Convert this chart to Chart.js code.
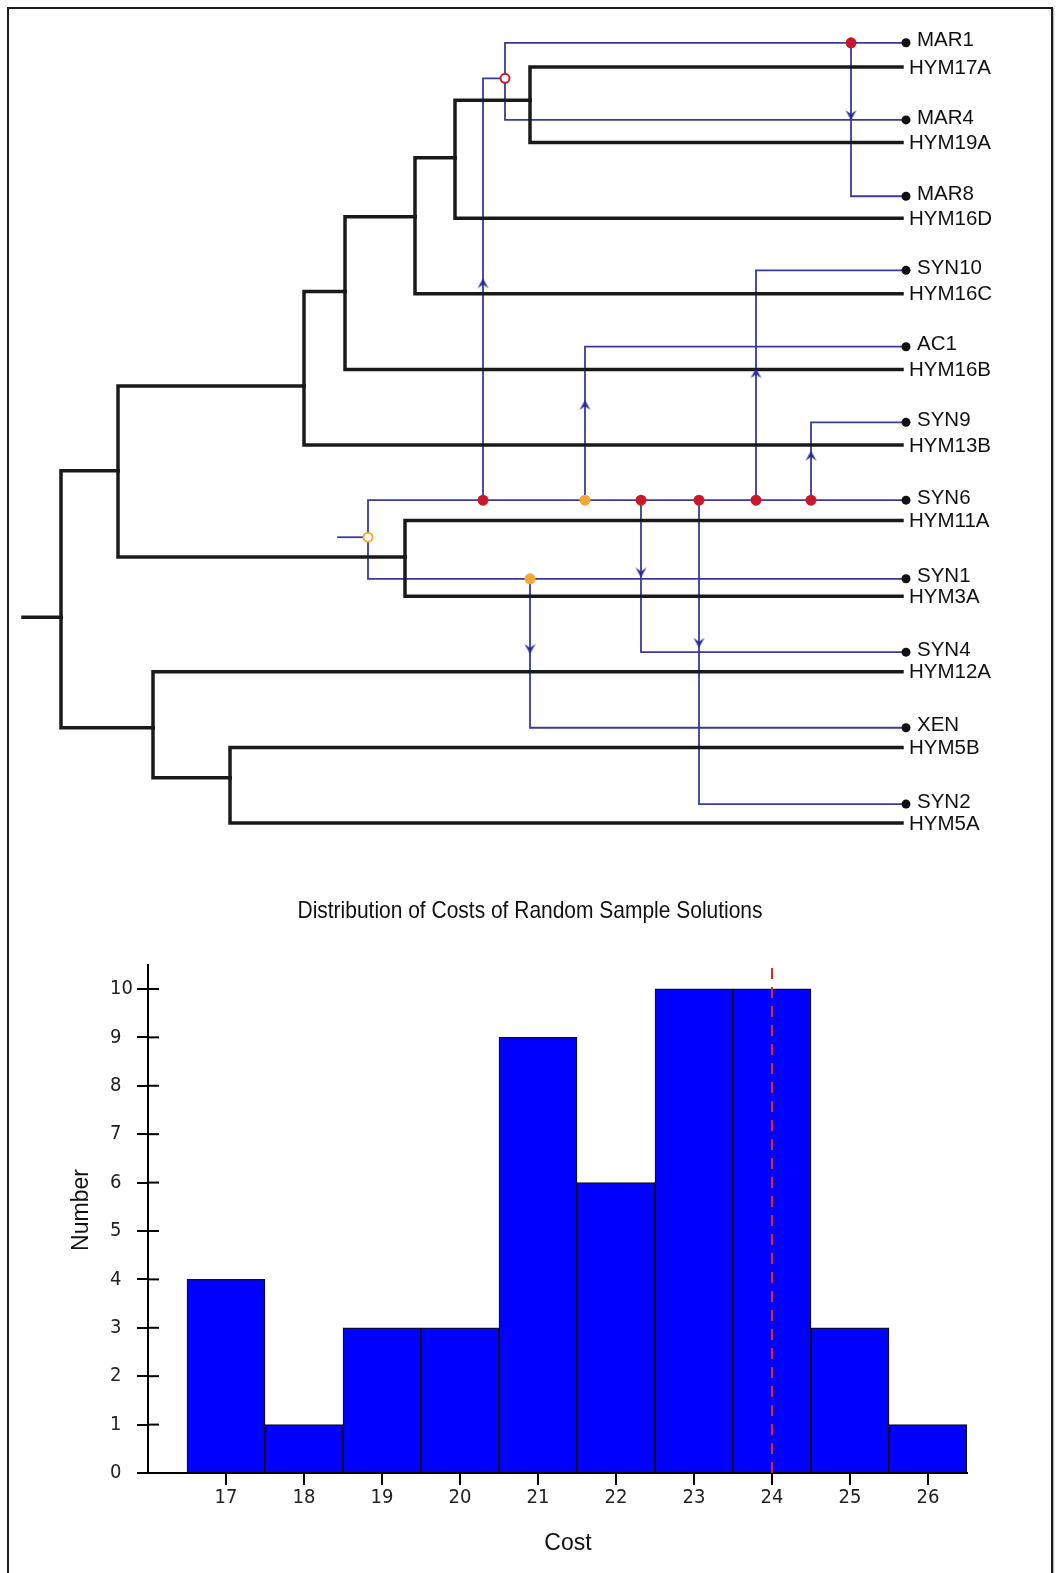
<!DOCTYPE html>
<html>
<head>
<meta charset="utf-8">
<script src="https://cdn.jsdelivr.net/npm/chart.js@4.4.1/dist/chart.umd.min.js"></script>
<style>
body{margin:0;background:#fff;}
#wrap{position:relative;width:1060px;height:1573px;overflow:hidden;}
#treeChart{position:absolute;left:0;top:0;}
#histChart{position:absolute;left:0;top:880px;}
#frame{position:absolute;left:7px;top:7px;width:1042px;height:1620px;border:2px solid #1c1c1c;box-shadow:1px 1px 1px #bbb;pointer-events:none;}
</style>
</head>
<body>
<div id="wrap">
<canvas id="treeChart" width="1060" height="880"></canvas>
<canvas id="histChart" width="1060" height="693"></canvas>
<div id="frame"></div>
</div>
<script>
// ---- host tree (black) ----
const hostLeaves = ['HYM17A','HYM19A','HYM16D','HYM16C','HYM16B','HYM13B','HYM11A','HYM3A','HYM12A','HYM5B','HYM5A'];
const hostLeafRows = [0,1,2,3,4,5,6,7,8,9,10];
const hostTip = 902;
const hostRootStart = 23;
const hostNodes = ['root','A','B','C','D','E','F','G','H','I'];
const hostNodeX = [61,118,304,345,415,455,530,405,153,230];
const hostNodeRow = [7.28,5.34,4.22,2.97,1.98,1.20,0.44,6.48,8.74,9.40];
const hostKids = [['A','H'],['B','G'],['C','HYM13B'],['D','HYM16B'],['E','HYM16C'],['F','HYM16D'],['HYM17A','HYM19A'],['HYM11A','HYM3A'],['HYM12A','I'],['HYM5B','HYM5A']];

// ---- parasite tree (blue) ----
const paraLeaves = ['MAR1','MAR4','MAR8','SYN10','AC1','SYN9','SYN6','SYN1','SYN4','XEN','SYN2'];
const paraLeafRows = [-0.32,0.70,1.71,2.69,3.70,4.70,5.73,6.77,7.74,8.74,9.75];
const paraTip = 906;
const paraRootStart = 338;
const paraNodes = ['p0','e1','q','m1','e2','e3','e4','e5','e6','s1'];
const paraNodeX = [368,483,505,851,585,641,699,756,811,530];
const paraNodeRow = [6.22,5.73,0.15,-0.32,5.73,5.73,5.73,5.73,5.73,6.77];
const paraNodeType = ['openOrange','red','openRed','red','orange','red','red','red','red','orange'];
const paraKids = [['e1','s1'],['e2','q'],['m1','MAR4'],['MAR1','MAR8'],['e3','AC1'],['e4','SYN4'],['e5','SYN2'],['e6','SYN10'],['SYN6','SYN9'],['SYN1','XEN']];
// arrows on the switch branches
const arrowTargets = ['q','AC1','SYN4','SYN2','SYN10','SYN9','MAR8','XEN'];
const arrowRows = [2.87,4.48,6.68,7.61,4.06,5.15,0.63,7.69];

// ---- histogram ----
const costs = [17,18,19,20,21,22,23,24,25,26];
const counts = [4,1,3,3,9,6,10,10,3,1];
const xTicks = [17,18,19,20,21,22,23,24,25,26];
const yTicks = [0,1,2,3,4,5,6,7,8,9,10];
const observedCost = 24;

const BLACK = '#1a1a1a';
const BLUE = '#3a3a9c';
const RED = '#c9182b';
const ORANGE = '#f5a833';

function hostPos(id){
    let i = hostLeaves.indexOf(id);
    if(i >= 0) return {x:hostTip, y:hostLeafRows[i]};
    i = hostNodes.indexOf(id);
    return {x:hostNodeX[i], y:hostNodeRow[i]};
}
function paraPos(id){
    let i = paraLeaves.indexOf(id);
    if(i >= 0) return {x:paraTip, y:paraLeafRows[i]};
    i = paraNodes.indexOf(id);
    return {x:paraNodeX[i], y:paraNodeRow[i]};
}

function edgeSet(pts, color, width){
    return {data:pts, showLine:true, borderColor:color, borderWidth:width, pointRadius:0,
            borderCapStyle:'square', borderJoinStyle:'miter', fill:false};
}

let hostEdges = [];
hostNodes.forEach((n,i)=>{
    hostKids[i].forEach(k=>{
        let c = hostPos(k);
        hostEdges.push(edgeSet([{x:hostNodeX[i],y:hostNodeRow[i]},{x:hostNodeX[i],y:c.y},{x:c.x,y:c.y}], BLACK, 3.5));
    });
});
hostEdges.push(edgeSet([{x:hostRootStart,y:hostNodeRow[0]},{x:hostNodeX[0],y:hostNodeRow[0]}], BLACK, 3.5));

let paraEdges = [];
let parentOf = {};
paraNodes.forEach((n,i)=>{
    paraKids[i].forEach(k=>{
        parentOf[k] = n;
        let c = paraPos(k);
        paraEdges.push(edgeSet([{x:paraNodeX[i],y:paraNodeRow[i]},{x:paraNodeX[i],y:c.y},{x:c.x,y:c.y}], BLUE, 1.8));
    });
});
paraEdges.push(edgeSet([{x:paraRootStart,y:paraNodeRow[0]},{x:paraNodeX[0],y:paraNodeRow[0]}], BLUE, 1.8));

// arrow head image, pointing down
let arrowImg = document.createElement('canvas');
arrowImg.width = 13; arrowImg.height = 13;
let actx = arrowImg.getContext('2d');
actx.fillStyle = '#2b2b95';
actx.beginPath();
actx.moveTo(6.5,12); actx.lineTo(1,2); actx.lineTo(6.5,6); actx.lineTo(12,2); actx.closePath();
actx.fill();

let arrowPts = [], arrowRot = [];
arrowTargets.forEach((t,i)=>{
    let p = paraPos(parentOf[t]);
    let c = paraPos(t);
    arrowPts.push({x:p.x, y:arrowRows[i]});
    arrowRot.push(c.y < p.y ? 180 : 0);
});

function dotsOf(type){
    let out = [];
    paraNodes.forEach((n,i)=>{ if(paraNodeType[i]===type) out.push({x:paraNodeX[i], y:paraNodeRow[i]}); });
    return out;
}

let dotSets = [
    {data:paraLeaves.map((n,i)=>({x:paraTip,y:paraLeafRows[i]})), pointRadius:4.5, pointBackgroundColor:'#111', pointBorderWidth:0},
    {data:dotsOf('red'), pointRadius:5.5, pointBackgroundColor:RED, pointBorderWidth:0},
    {data:dotsOf('orange'), pointRadius:5.5, pointBackgroundColor:ORANGE, pointBorderWidth:0},
    {data:dotsOf('openRed'), pointRadius:4.5, pointBackgroundColor:'#fff', pointBorderColor:RED, pointBorderWidth:2},
    {data:dotsOf('openOrange'), pointRadius:4.5, pointBackgroundColor:'#fff', pointBorderColor:ORANGE, pointBorderWidth:2},
    {data:arrowPts, pointRadius:5, pointStyle:arrowImg, pointRotation:arrowRot}
];

const leafLabels = {
    id:'leafLabels',
    afterDatasetsDraw(chart){
        const ctx = chart.ctx, x = chart.scales.x, y = chart.scales.y;
        ctx.save();
        ctx.font = '20.5px "Liberation Sans", Arial, sans-serif';
        ctx.fillStyle = '#111';
        ctx.textBaseline = 'middle';
        hostLeaves.forEach((n,i)=>{
            ctx.fillText(n, x.getPixelForValue(hostTip)+7, y.getPixelForValue(hostLeafRows[i])+1);
        });
        paraLeaves.forEach((n,i)=>{
            ctx.fillText(n, x.getPixelForValue(paraTip)+11, y.getPixelForValue(paraLeafRows[i])-2);
        });
        ctx.restore();
    }
};

new Chart(document.getElementById('treeChart'), {
    type:'scatter',
    data:{datasets:[...dotSets, ...hostEdges, ...paraEdges]},
    options:{
        responsive:false, animation:false, events:[],
        layout:{padding:0, autoPadding:false},
        plugins:{legend:{display:false}, tooltip:{enabled:false}},
        scales:{
            x:{type:'linear', display:false, min:0, max:1060},
            y:{type:'linear', display:false, min:-0.886, max:10.754, reverse:true}
        }
    },
    plugins:[leafLabels]
});

// ---- histogram chart ----
const tickFont = {family:'"DejaVu Sans Condensed", "DejaVu Sans", sans-serif', size:20};

const histExtras = {
    id:'histExtras',
    afterDraw(chart){
        const ctx = chart.ctx, ys = chart.scales.y, area = chart.chartArea;
        ctx.save();
        // inner half of the y ticks
        ctx.strokeStyle = '#000';
        ctx.lineWidth = 2;
        yTicks.forEach(v=>{
            let py = ys.getPixelForValue(v);
            ctx.beginPath(); ctx.moveTo(area.left, py); ctx.lineTo(area.left+11, py); ctx.stroke();
        });
        ctx.fillStyle = '#111';
        ctx.textAlign = 'center';
        ctx.textBaseline = 'middle';
        // narrow title
        const title = 'Distribution of Costs of Random Sample Solutions';
        ctx.font = '24px "Liberation Sans", Arial, sans-serif';
        let w = ctx.measureText(title).width;
        ctx.save();
        ctx.translate(530, 31);
        ctx.scale(465 / w, 1);
        ctx.fillText(title, 0, 0);
        ctx.restore();
        ctx.font = '23px "Liberation Sans", Arial, sans-serif';
        ctx.fillText('Cost', 568, 664);
        ctx.translate(82, 330);
        ctx.rotate(-Math.PI/2);
        ctx.fillText('Number', 0, 0);
        ctx.restore();
    }
};

new Chart(document.getElementById('histChart'), {
    type:'bar',
    data:{datasets:[
        {type:'line', data:[{x:observedCost,y:0},{x:observedCost,y:10.5}], borderColor:'#e3242b', borderWidth:2,
         borderDash:[11,8], pointRadius:0, order:0},
        {type:'bar', data:costs.map((c,i)=>({x:c,y:counts[i]})), backgroundColor:'#0000ff', borderColor:'#111',
         borderWidth:1.3, barPercentage:1, categoryPercentage:1, order:1}
    ]},
    options:{
        responsive:false, animation:false, events:[],
        layout:{padding:{left:110, right:93, top:84.75, bottom:0}, autoPadding:false},
        plugins:{legend:{display:false}, tooltip:{enabled:false}},
        scales:{
            x:{type:'linear', min:16, max:26.5, offset:false,
               grid:{drawOnChartArea:false, offset:false, tickLength:12, color:'#000', lineWidth:2},
               border:{color:'#000', width:2},
               ticks:{color:'#222', font:tickFont, padding:1, autoSkip:false, maxRotation:0},
               afterBuildTicks:s=>{ s.ticks = xTicks.map(v=>({value:v})); },
               afterFit:s=>{ s.height = 100; }
            },
            y:{type:'linear', min:0, max:10.5,
               grid:{drawOnChartArea:false, tickLength:11, color:'#000', lineWidth:2},
               border:{color:'#000', width:2},
               ticks:{color:'#222', font:tickFont, crossAlign:'far', padding:2},
               afterBuildTicks:s=>{ s.ticks = yTicks.map(v=>({value:v})); },
               afterFit:s=>{ s.width = 38; }
            }
        }
    },
    plugins:[histExtras]
});
</script>
</body>
</html>
